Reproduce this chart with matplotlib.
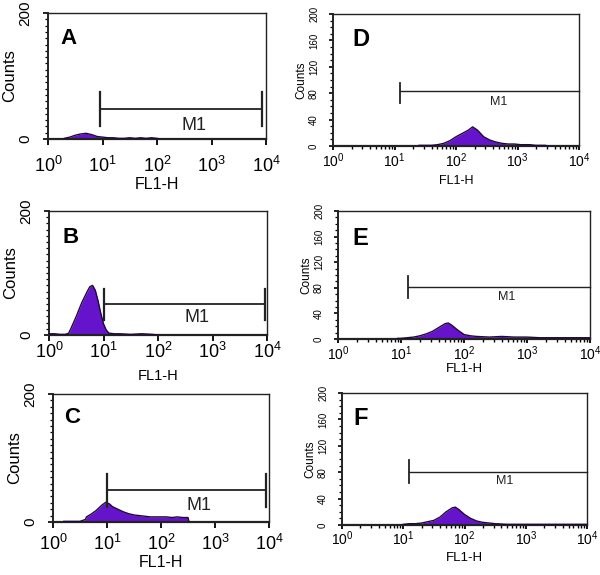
import matplotlib
matplotlib.use("Agg")
import matplotlib.pyplot as plt
import numpy as np
from matplotlib.ticker import FixedLocator, LogLocator, NullFormatter
import matplotlib.transforms as mtransforms

plt.rcParams['font.family'] = ['Liberation Sans', 'DejaVu Sans']
plt.rcParams['mathtext.fontset'] = 'custom'
plt.rcParams['mathtext.rm'] = 'Liberation Sans'
plt.rcParams['mathtext.it'] = 'Liberation Sans'

# ---- data (log10 of FL1-H, counts) ----
a_logx = [0.3, 0.4, 0.5, 0.6, 0.7, 0.8, 0.9, 1.0, 1.1, 1.2, 1.3, 1.4, 1.5, 1.6, 1.7, 1.8, 1.9, 2.0, 2.05]
a_cnt = [1, 3, 6, 8, 9, 7, 4, 3, 2, 2, 1, 1, 2, 1, 2, 1, 2, 1, 0]

b_logx = [0.0, 0.1, 0.2, 0.3, 0.36, 0.4, 0.5, 0.6, 0.7, 0.75, 0.8, 0.85, 0.9, 0.95, 1.0, 1.05, 1.1, 1.2, 1.3, 1.5, 1.7, 1.9, 2.0]
b_cnt = [2, 2, 1, 1, 3, 10, 30, 52, 70, 78, 80, 72, 55, 35, 18, 8, 3, 2, 2, 1, 2, 1, 0]

c_logx = [0.2, 0.3, 0.4, 0.5, 0.6, 0.62, 0.7, 0.8, 0.9, 0.98, 1.05, 1.1, 1.2, 1.3, 1.4, 1.5, 1.6, 1.7, 1.8, 1.9, 2.0, 2.1, 2.2, 2.3, 2.4, 2.5, 2.52]
c_cnt = [1, 1, 1, 1, 4, 8, 12, 18, 26, 31, 28, 24, 20, 16, 13, 11, 10, 9, 8, 8, 8, 8, 7, 8, 7, 7, 0]

d_logx = [1.4, 1.5, 1.6, 1.7, 1.8, 1.9, 2.0, 2.1, 2.2, 2.27, 2.35, 2.45, 2.55, 2.65, 2.75, 2.85, 2.95, 3.05, 3.2, 3.3, 3.45, 3.5]
d_cnt = [1, 1, 1, 2, 4, 8, 14, 19, 24, 29, 24, 14, 9, 6, 4, 3, 3, 2, 2, 1, 1, 0]

e_logx = [0.95, 1.0, 1.1, 1.2, 1.3, 1.4, 1.5, 1.6, 1.7, 1.75, 1.8, 1.9, 2.0, 2.1, 2.2, 2.4, 2.6, 2.8, 3.0, 3.2, 3.4, 3.6, 3.8, 4.0]
e_cnt = [1, 1, 2, 3, 5, 8, 12, 18, 24, 25, 22, 14, 7, 5, 4, 3, 4, 3, 3, 2, 2, 2, 2, 2]

f_logx = [1.0, 1.1, 1.2, 1.3, 1.4, 1.5, 1.6, 1.7, 1.8, 1.85, 1.9, 2.0, 2.1, 2.2, 2.3, 2.4, 2.5, 2.7, 3.0, 3.5, 4.0]
f_cnt = [1, 2, 2, 3, 5, 7, 12, 20, 26, 27, 24, 16, 10, 6, 4, 3, 2, 1, 1, 1, 1]

panel_letters = ['A', 'B', 'C', 'D', 'E', 'F']
# marker M1: start, end (log10), level, tick low, tick high
m1_start = [0.95, 1.01, 1.0, 1.09, 1.11, 1.10]
m1_end = [3.92, 3.96, 3.95, 4.0, 4.0, 4.0]
m1_level = [48, 50, 50, 83, 81, 81]
m1_lo = [21, 25, 23, 65, 64, 64]
m1_hi = [75, 74, 75, 96, 98, 99]
m1_end_tick = [True, True, True, False, False, False]
m1_label_x = [2.67, 2.71, 2.70, 2.69, 2.68, 2.66]
m1_label_y = [21, 28, 25, 67, 66, 66]

left_yticks = [0, 200]
right_yticks = [0, 40, 80, 120, 160, 200]
xtick_vals = [1, 10, 100, 1000, 10000]
xtick_labels = ['$10^{0}$', '$10^{1}$', '$10^{2}$', '$10^{3}$', '$10^{4}$']

series = [(a_logx, a_cnt), (b_logx, b_cnt), (c_logx, c_cnt),
          (d_logx, d_cnt), (e_logx, e_cnt), (f_logx, f_cnt)]

# ---- layout (figure pixels: left, right, top, bottom) ----
W, H = 600, 575
boxes = [(48, 266, 13, 139), (49, 267, 211, 335), (53, 269, 394, 522),
         (333, 579, 14, 146), (338, 590, 211, 339), (342, 587, 393, 525)]
xpad = [8.0, 0.5, 4.0, 1.2, 1.2, 0.3]
xlabelpad = [0.5, 5, 1, 3.5, 0, 2.5]
xlabel_fs = [11.5, 10.5, 11.5, 9, 9.5, 9.5]
letter_dx = [12, 13, 11, 19, 14, 11]
letter_dy = [15, 16, 13, 14, 16, 14]

fig = plt.figure(figsize=(6, 5.75), dpi=100)
fill_col = '#6614cc'
edge_col = '#22083a'

for i, (lx, cnt) in enumerate(series):
    l, r, t, b = boxes[i]
    ax = fig.add_axes([l / W, 1 - b / H, (r - l) / W, (b - t) / H])
    left = i < 3
    x = 10 ** np.array(lx)
    ax.fill_between(x, 0, cnt, color=fill_col, lw=0, zorder=2)
    ax.plot(x, cnt, color=edge_col, lw=1.0, zorder=3)
    ax.set_xscale('log')
    ax.set_xlim(1, 10000)
    ax.set_ylim(0, 200)
    # M1 marker
    x0 = 10 ** m1_start[i]
    x1 = 10 ** m1_end[i]
    lw_m = 1.3 if left else 1.0
    ax.plot([x0, x1], [m1_level[i], m1_level[i]], color='#222222', lw=lw_m, zorder=4, clip_on=False)
    ax.plot([x0, x0], [m1_lo[i], m1_hi[i]], color='#222222', lw=lw_m + 0.3, zorder=4)
    if m1_end_tick[i]:
        ax.plot([x1, x1], [m1_lo[i], m1_hi[i]], color='#222222', lw=lw_m + 0.3, zorder=4)
    ax.text(10 ** m1_label_x[i], m1_label_y[i], 'M1', ha='center', va='center',
            fontsize=13 if left else 9, color='#222222')
    # panel letter
    tr = ax.transAxes + mtransforms.ScaledTranslation(letter_dx[i] / 100, -letter_dy[i] / 100,
                                                      fig.dpi_scale_trans)
    ax.text(0, 1, panel_letters[i], transform=tr,
            fontsize=16 if left else 17, fontweight='bold', ha='left', va='top')
    # x ticks
    ax.xaxis.set_major_locator(FixedLocator(xtick_vals))
    ax.set_xticklabels(xtick_labels)
    ax.xaxis.set_minor_locator(LogLocator(base=10, subs=np.arange(2, 10)))
    ax.xaxis.set_minor_formatter(NullFormatter())
    # y ticks
    if left:
        ax.yaxis.set_major_locator(FixedLocator(left_yticks))
    else:
        ax.yaxis.set_major_locator(FixedLocator(right_yticks))
    ax.yaxis.set_minor_locator(FixedLocator(list(range(0, 201, 10))))
    for lab in ax.get_yticklabels():
        lab.set_rotation(90)
        lab.set_va('center')
    xfs = 13 if left else 10
    yfs = 11 if left else 7
    ax.tick_params(axis='x', which='major', direction='out', length=4.3 if left else 3,
                   width=1.3, labelsize=xfs, pad=xpad[i])
    ax.tick_params(axis='x', which='minor', direction='out', length=3 if left else 2.2, width=1.0)
    ax.tick_params(axis='y', which='major', direction='out', length=3.5 if left else 3,
                   width=1.2, labelsize=yfs, pad=8 if left else 7)
    ax.tick_params(axis='y', which='minor', direction='out', length=2.5 if left else 2, width=0.9)
    ax.set_xlabel('FL1-H', fontsize=xlabel_fs[i], labelpad=xlabelpad[i])
    ax.set_ylabel('Counts', fontsize=12 if left else 8.5, labelpad=1 if left else 1.5)
    for sp in ax.spines.values():
        sp.set_linewidth(1.0)
        sp.set_color('#222222')
    ax.spines['bottom'].set_linewidth(1.6)
    ax.spines['left'].set_linewidth(1.4)

fig.savefig('out.png', dpi=100, facecolor='white')
